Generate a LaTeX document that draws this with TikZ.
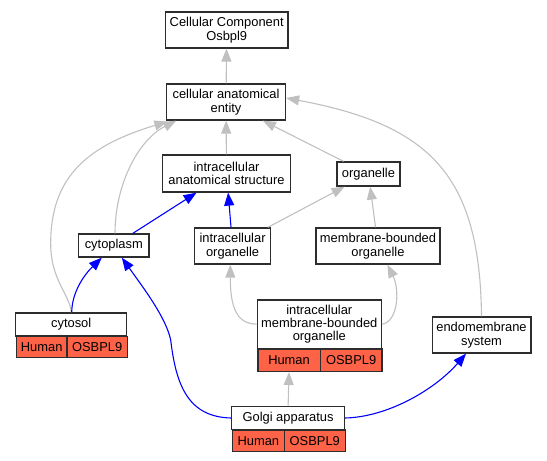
\documentclass[tikz,border=0pt]{standalone}
\usepackage{fontspec}
\setmainfont{Liberation Sans}
\usetikzlibrary{arrows.meta}
\definecolor{edgegray}{RGB}{192,192,192}
\definecolor{tomato}{RGB}{255,99,71}
\definecolor{boxline}{RGB}{45,45,45}
\begin{document}
\begin{tikzpicture}[x=1bp,y=-1bp,
  box/.style={draw=boxline, line width=1.3bp, fill=white, inner sep=0pt, align=center,
    font=\fontsize{12.9bp}{13.4bp}\selectfont},
  redcell/.style={draw=boxline, line width=1.3bp, fill=tomato, inner sep=0pt, anchor=north west,
    font=\fontsize{12.9bp}{13.4bp}\selectfont},
  gedge/.style={draw=edgegray, line width=1.1bp, -{Triangle[length=13bp,width=10bp]}},
  bedge/.style={draw=blue, line width=1.1bp, -{Triangle[length=13bp,width=10bp]}}]
\useasboundingbox (0,0) rectangle (547,461);
% nodes
\node[box, minimum width=122.5bp, minimum height=36bp] (cc) at (226.7,30) {Cellular Component\\Osbpl9};
\node[box, minimum width=119bp, minimum height=36bp] (cae) at (226,102) {cellular anatomical\\entity};
\node[box, minimum width=128.5bp, minimum height=37bp] (ias) at (226.5,173.5) {intracellular\\anatomical structure};
\node[box, minimum width=62.9bp, minimum height=24bp] (org) at (368.5,174) {organelle};
\node[box, minimum width=70.5bp, minimum height=23bp] (cyt) at (113.8,245.5) {cytoplasm};
\node[box, minimum width=76.4bp, minimum height=36bp] (io) at (232.6,246) {intracellular\\organelle};
\node[box, minimum width=124.2bp, minimum height=36bp] (mbo) at (378,246) {membrane-bounded\\organelle};
\node[box, minimum width=111bp, minimum height=23bp] (cytosol) at (71.2,324.5) {cytosol};
\node[redcell, minimum width=50.6bp, minimum height=21bp] (cytosolH) at (15.7,336) {Human};
\node[redcell, minimum width=60.4bp, minimum height=21bp] (cytosolO) at (66.3,336) {OSBPL9};
\node[box, minimum width=124.2bp, minimum height=48.3bp] (imbo) at (319.3,324.15) {intracellular\\membrane-bounded\\organelle};
\node[redcell, minimum width=62.4bp, minimum height=22.4bp] (imboH) at (257.2,348.3) {Human};
\node[redcell, minimum width=61.8bp, minimum height=22.4bp] (imboO) at (319.6,348.3) {OSBPL9};
\node[box, minimum width=98.7bp, minimum height=36bp] (endo) at (481.5,335) {endomembrane\\system};
\node[box, minimum width=112.8bp, minimum height=22.6bp] (golgi) at (288.1,418) {Golgi apparatus};
\node[redcell, minimum width=52bp, minimum height=21.4bp] (golgiH) at (231.7,429.3) {Human};
\node[redcell, minimum width=60.8bp, minimum height=21.4bp] (golgiO) at (283.7,429.3) {OSBPL9};
% gray edges
\draw[gedge] (cae) -- (cc);
\draw[gedge] (ias) -- (cae);
\draw[gedge] (org) -- (cae);
\draw[gedge] (cytosol.north) .. controls (70,295) and (51,280) .. (50.7,245)
  .. controls (50,175) and (90,145) .. ([xshift=1.5bp,yshift=-1bp]cae.south west);
\draw[gedge] ([xshift=1.2bp]cyt.north) .. controls (115,185) and (138,140) .. ([xshift=10.5bp]cae.south west);
\draw[gedge] (endo.north) .. controls (480,175) and (430,125) .. ([yshift=4bp]cae.east);
\draw[gedge] (io) -- (org);
\draw[gedge] (mbo) -- (org);
\draw[gedge] (imbo.west) .. controls (235.6,324) and (230.3,305) .. ([xshift=-2.3bp]io.south);
\draw[gedge] (imbo.east) .. controls (397.9,322) and (400,290) .. ([xshift=9.4bp]mbo.south);
\draw[gedge] (golgi.north) -- (imboH.south);
% blue edges
\draw[bedge] (cyt) -- (ias);
\draw[bedge] (io) -- (ias);
\draw[bedge] ([xshift=0.5bp]cytosol.north) .. controls (72,292) and (84,275) .. ([xshift=-12bp]cyt.south);
\draw[bedge] (golgi.west) .. controls (188,417) and (176,385) .. (170.7,340)
  .. controls (166,318) and (145,290) .. ([xshift=8bp]cyt.south);
\draw[bedge] (golgi.east) .. controls (387.4,417) and (434.5,390) .. ([xshift=-15.5bp]endo.south);
\end{tikzpicture}
\end{document}
